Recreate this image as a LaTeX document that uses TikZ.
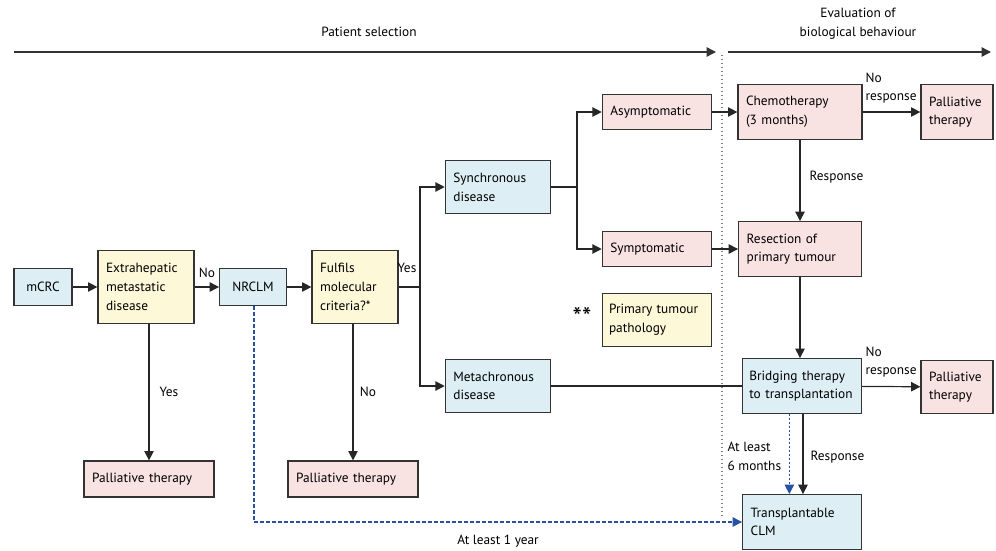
\documentclass[tikz,border=0pt]{standalone}
\usepackage{fontspec}
\setmainfont{PT Sans}
\usetikzlibrary{arrows.meta}
\definecolor{softblue}{RGB}{221,238,245}
\definecolor{softpink}{RGB}{249,226,226}
\definecolor{softyellow}{RGB}{253,248,216}
\definecolor{waitblue}{RGB}{40,80,165}
\definecolor{splitgray}{RGB}{125,125,125}
\tikzset{
  box/.style={rectangle,draw=black!80,line width=0.9pt,align=left,inner xsep=6pt,inner ysep=2pt,font=\fontsize{10}{14}\selectfont},
  bluebox/.style={box,fill=softblue},
  pinkbox/.style={box,fill=softpink},
  yellowbox/.style={box,fill=softyellow},
  edge/.style={-{Triangle[length=7pt,width=7pt]},line width=0.9pt,draw=black!85},
  plainedge/.style={line width=0.9pt,draw=black!85},
  waitedge/.style={-{Triangle[length=7pt,width=7pt]},line width=0.9pt,draw=waitblue,dash pattern=on 2.5pt off 2pt},
  phase/.style={-{Triangle[length=7pt,width=7pt]},line width=1pt,draw=black!80},
  lbl/.style={font=\fontsize{10}{14}\selectfont,align=left,inner sep=1pt}
}

\begin{document}
\begin{tikzpicture}[x=0.75pt,y=-0.75pt]
  \useasboundingbox (0,0) rectangle (996,550);

  % phases
  \coordinate (selA) at (14,52);
  \coordinate (selB) at (716,52);
  \coordinate (evaA) at (728,52);
  \coordinate (evaB) at (991,52);
  \draw[phase] (selA) -- (selB);
  \draw[phase] (evaA) -- (evaB);
  \node[lbl] (seltext) at (369,32) {Patient selection};
  \node[lbl,align=center] (evatext) at (858,24) {Evaluation of\\biological behaviour};
  \coordinate (splitA) at (722,55);
  \coordinate (splitB) at (722,517);
  \draw[splitgray,line width=1pt,dash pattern=on 1pt off 2pt] (splitA) -- (splitB);

  % selection
  \node[bluebox,text width=31.5pt,align=center,minimum height=28pt] (mcrc) at (43,287) {mCRC};
  \node[yellowbox,text width=60pt,minimum height=55pt] (extra) at (146,287) {Extrahepatic\\metastatic\\disease};
  \node[bluebox,text width=38pt,align=center,minimum height=28pt] (nrclm) at (253,287) {NRCLM};
  \node[yellowbox,text width=52.5pt,minimum height=55pt] (crit) at (355,287) {Fulfils\\molecular\\criteria?*};
  \node[pinkbox,text width=85.5pt,minimum height=27pt] (palext) at (149,479) {Palliative therapy};
  \node[pinkbox,text width=85.5pt,minimum height=27pt] (palcrit) at (353,479) {Palliative therapy};
  \node[bluebox,text width=67pt,minimum height=40pt] (sync) at (498,187) {Synchronous\\disease};
  \node[bluebox,text width=67pt,minimum height=40pt] (meta) at (498,386) {Metachronous\\disease};
  \node[pinkbox,text width=70pt,minimum height=26pt] (asym) at (657,112) {Asymptomatic};
  \node[pinkbox,text width=70pt,minimum height=26pt] (symp) at (657,249) {Symptomatic};
  \node[yellowbox,inner xsep=5pt,text width=72pt,minimum height=40pt] (path) at (657,320) {Primary tumour\\pathology};
  \node[font=\fontsize{20}{20}\selectfont,inner sep=1pt] (stars) at (582,317) {**};

  % evaluation
  \node[pinkbox,text width=81pt,minimum height=41pt] (chemo) at (800,112) {Chemotherapy\\(3 months)};
  \node[pinkbox,text width=42pt,minimum height=41pt] (palchemo) at (957,112) {Palliative\\therapy};
  \node[pinkbox,text width=80pt,minimum height=41pt] (resect) at (800,249) {Resection of\\primary tumour};
  \node[bluebox,inner xsep=5pt,text width=79pt,minimum height=41pt] (bridge) at (802,386) {Bridging therapy\\to transplantation};
  \node[pinkbox,text width=42pt,minimum height=40pt] (palbridge) at (957,387) {Palliative\\therapy};
  \node[bluebox,text width=77pt,minimum height=41pt] (clm) at (802,522) {Transplantable\\CLM};

  % connectors
  \draw[edge] (mcrc) -- (extra);
  \draw[edge] (extra) -- (nrclm);
  \node[lbl] (nolbl) at (207,273) {No};
  \draw[edge] (nrclm) -- (crit);
  \draw[edge] (palext.north |- extra.south) -- (palext.north);
  \node[lbl] (yeslbl) at (169,392) {Yes};
  \draw[edge] (palcrit.north |- crit.south) -- (palcrit.north);
  \node[lbl] (nolbl2) at (368,392) {No};
  \coordinate (yesjoin) at (420,287);
  \draw[plainedge] (crit) -- (yesjoin);
  \node[lbl] (yeslbl2) at (407,268) {Yes};
  \draw[edge] (yesjoin) |- (sync);
  \draw[edge] (yesjoin) |- (meta);
  \coordinate (syncjoin) at (577,187);
  \draw[plainedge] (sync) -- (syncjoin);
  \draw[edge] (syncjoin) |- (asym);
  \draw[edge] (syncjoin) |- (symp);
  \draw[edge] (asym) -- (chemo);
  \draw[edge] (symp) -- (resect);
  \draw[edge] (chemo) -- (palchemo);
  \node[lbl,anchor=west] (noresp) at (864,88) {No\\response};
  \draw[edge] (chemo) -- (resect);
  \node[lbl,anchor=west] (resp) at (808,177) {Response};
  \draw[edge] (resect.south) -- (resect.south |- bridge.north);
  \draw[plainedge] (meta) -- (bridge);
  \draw[edge] (bridge) -- (palbridge);
  \node[lbl,anchor=west] (noresp2) at (864,362) {No\\response};
  \draw[edge] ([xshift=0.75pt]bridge.south) -- ([xshift=0.75pt]clm.north);
  \node[lbl,anchor=west] (resp2) at (809,457) {Response};
  \draw[waitedge,dash pattern=on 1.5pt off 1.5pt] ([xshift=-9.5pt]bridge.south) -- ([xshift=-9.5pt]clm.north);
  \node[lbl,anchor=west] (sixmonths) at (726,456) {At least\\6 months};
  \coordinate (waitturn) at (254,522);
  \draw[waitedge] (nrclm.south -| waitturn) -- (waitturn) -- (clm);
  \node[lbl] (oneyear) at (498,541) {At least 1 year};
\end{tikzpicture}
\end{document}
